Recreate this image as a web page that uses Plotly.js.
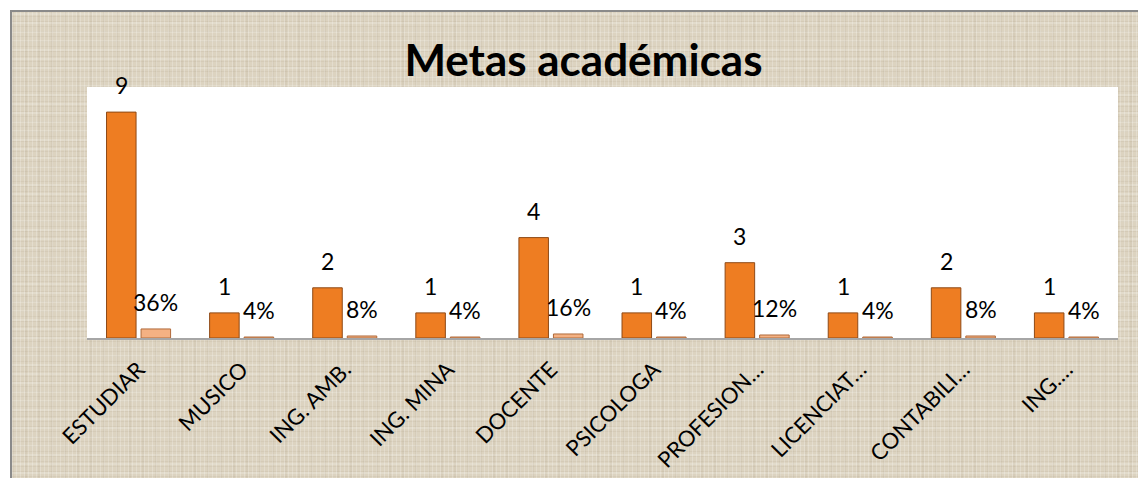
<!DOCTYPE html>
<html>
<head>
<meta charset="utf-8">
<script src="https://cdn.plot.ly/plotly-3.0.1.min.js"></script>
<style>
  html, body { margin: 0; padding: 0; width: 1138px; height: 478px; overflow: hidden; background: #ffffff; }
  #frame {
    position: absolute; left: 10px; top: 10px; width: 1140px; height: 480px;
    border-left: 2px solid #8a8a8a; border-top: 2px solid #8a8a8a;
    background-color: #dcd3c0;
    background-image:
      repeating-linear-gradient(90deg, rgba(255,255,255,0.22) 0px, rgba(255,255,255,0.22) 1px, rgba(0,0,0,0) 1px, rgba(0,0,0,0) 4px),
      repeating-linear-gradient(0deg, rgba(120,100,70,0.07) 0px, rgba(120,100,70,0.07) 1px, rgba(0,0,0,0) 1px, rgba(0,0,0,0) 5px),
      repeating-linear-gradient(90deg, rgba(110,90,60,0.06) 0px, rgba(110,90,60,0.06) 2px, rgba(0,0,0,0) 2px, rgba(0,0,0,0) 13px),
      repeating-linear-gradient(0deg, rgba(255,255,255,0.18) 0px, rgba(255,255,255,0.18) 2px, rgba(0,0,0,0) 2px, rgba(0,0,0,0) 9px);
  }
  #chart { position: absolute; left: 0; top: 0; width: 1138px; height: 478px; }
</style>
</head>
<body>
<div id="frame"></div>
<div id="chart"></div>
<script>
var categories = ["ESTUDIAR", "MUSICO", "ING. AMB.", "ING. MINA", "DOCENTE", "PSICOLOGA", "PROFESION…", "LICENCIAT…", "CONTABILI…", "ING.…"];
var counts = [9, 1, 2, 1, 4, 1, 3, 1, 2, 1];
var percents = [0.36, 0.04, 0.08, 0.04, 0.16, 0.04, 0.12, 0.04, 0.08, 0.04];
var titleText = "Metas académicas";

var traces = [
  {
    type: "bar", x: categories, y: counts, name: "Cantidad",
    marker: { color: "#ee7d22", line: { color: "#8e4a17", width: 1 } },
    hoverinfo: "skip"
  },
  {
    type: "bar", x: categories, y: percents, name: "Porcentaje",
    marker: { color: "#f4b183", line: { color: "#b06a3b", width: 1 } },
    hoverinfo: "skip"
  }
];

var annotations = [];
var labelFont = { family: "Lato, 'Open Sans', sans-serif", size: 23, color: "#000000" };
for (var i = 0; i < categories.length; i++) {
  annotations.push({
    x: categories[i], y: counts[i], xref: "x", yref: "y",
    text: String(counts[i]), showarrow: false,
    xshift: -17.25, yshift: 27, yanchor: "middle", xanchor: "center",
    font: labelFont
  });
  annotations.push({
    x: categories[i], y: percents[i], xref: "x", yref: "y",
    text: Math.round(percents[i] * 100) + "%", showarrow: false,
    xshift: 17.25, yshift: 27, yanchor: "middle", xanchor: "center",
    font: labelFont
  });
}

var layout = {
  width: 1138, height: 478,
  margin: { l: 87, r: 20, t: 87, b: 140, pad: 0 },
  paper_bgcolor: "rgba(0,0,0,0)",
  plot_bgcolor: "#ffffff",
  showlegend: false,
  barmode: "group",
  bargap: 0.33,
  bargroupgap: 0.145,
  title: {
    text: "<b>" + titleText + "</b>",
    font: { family: "Lato, 'Open Sans', sans-serif", size: 44, color: "#000000" },
    xref: "container", x: 0.5127, xanchor: "center",
    yref: "container", y: 1 - 61 / 478, yanchor: "middle"
  },
  xaxis: {
    type: "category",
    showline: true, linecolor: "#a6a6a6", linewidth: 2,
    showgrid: false, zeroline: false, ticks: "",
    tickangle: -45,
    ticklabelstandoff: 8,
    tickfont: { family: "Lato, 'Open Sans', sans-serif", size: 22, color: "#000000" }
  },
  yaxis: {
    range: [0, 10], visible: false, showgrid: false, zeroline: false, fixedrange: true
  },
  annotations: annotations
};

Plotly.newPlot("chart", traces, layout, { staticPlot: true, displayModeBar: false });
</script>
</body>
</html>
